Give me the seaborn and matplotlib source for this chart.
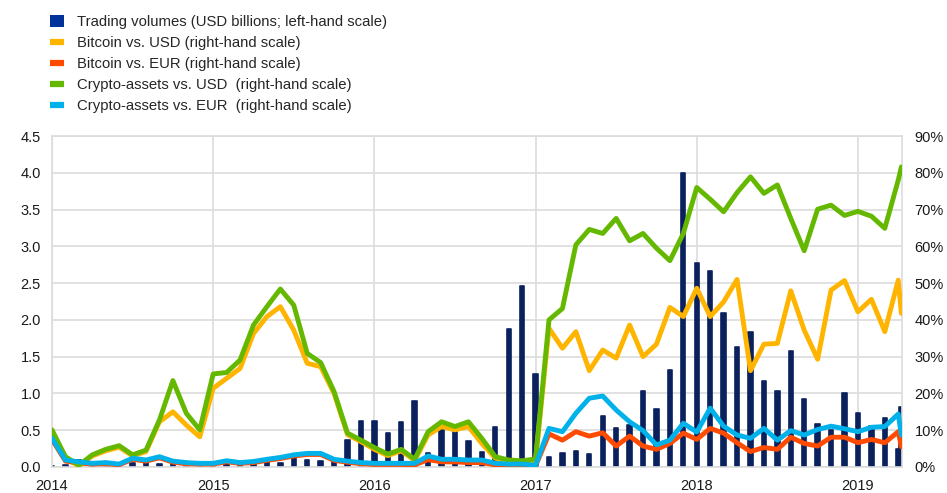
import numpy as np
import pandas as pd
import matplotlib.pyplot as plt
import seaborn as sns
from matplotlib.patches import Patch
from matplotlib.lines import Line2D
from matplotlib.ticker import FuncFormatter, MultipleLocator

# monthly observations Jan 2014 - Apr 2019, plus a last partial reading
dates = list(pd.date_range("2014-01-01", "2019-04-01", freq="MS")) + [pd.Timestamp("2019-04-08")]

# trading volumes, USD billions (left-hand scale)
volume = [0.02, 0.03, 0.10, 0.06, 0.03, 0.03, 0.06, 0.06, 0.04, 0.04, 0.03, 0.03,
          0.03, 0.04, 0.04, 0.05, 0.08, 0.05, 0.12, 0.10, 0.08, 0.08, 0.37, 0.63,
          0.63, 0.46, 0.61, 0.90, 0.19, 0.50, 0.50, 0.35, 0.21, 0.55, 1.88, 2.46,
          1.26, 0.14, 0.19, 0.22, 0.18, 0.69, 0.53, 0.57, 1.03, 0.79, 1.32, 4.00,
          2.77, 2.66, 2.10, 1.63, 1.84, 1.17, 1.03, 1.58, 0.92, 0.59, 0.50, 1.00,
          0.74, 0.56, 0.66, 0.24, 0.81]

# shares in percent (right-hand scale)
btc_usd = [9.7, 2.4, 0.3, 3.0, 4.4, 5.4, 3.0, 4.2, 12.3, 15.0, 11.4, 8.2,
           21.4, 24.1, 26.8, 36.3, 40.9, 43.6, 37.2, 28.2, 27.3, 20.0, 8.8, 6.9,
           4.8, 3.1, 4.4, 1.8, 8.7, 11.0, 10.1, 11.0, 6.4, 2.4, 1.6, 1.4,
           1.8, 37.7, 32.3, 36.8, 26.2, 31.8, 29.6, 38.6, 30.0, 33.4, 43.4, 40.9,
           48.6, 40.9, 44.9, 51.0, 26.2, 33.4, 33.6, 47.9, 37.2, 29.3, 48.1, 50.7,
           42.2, 45.6, 36.8, 50.8, 41.8]

btc_eur = [7.5, 1.6, 1.1, 0.8, 0.9, 0.6, 2.1, 1.6, 2.5, 1.3, 0.9, 0.8,
           0.8, 1.4, 1.0, 1.2, 1.8, 2.3, 3.0, 3.4, 3.4, 1.8, 1.3, 0.9,
           0.7, 0.7, 0.7, 0.6, 2.0, 1.4, 1.4, 1.2, 1.2, 0.6, 0.5, 0.5,
           0.3, 9.0, 7.3, 9.6, 8.4, 9.3, 5.7, 8.4, 5.7, 4.8, 6.4, 9.2,
           7.5, 10.5, 9.2, 6.6, 4.2, 5.3, 4.8, 8.1, 6.4, 5.7, 8.1, 8.1,
           6.6, 7.5, 6.6, 9.6, 5.5]

crypto_usd = [10.1, 2.8, 0.5, 3.3, 4.8, 5.8, 3.3, 4.6, 12.8, 23.5, 14.6, 10.1,
              25.3, 25.7, 29.1, 38.6, 43.6, 48.4, 44.0, 30.9, 28.4, 20.5, 9.2, 7.3,
              5.3, 3.5, 4.8, 2.1, 9.6, 12.3, 11.0, 12.3, 7.8, 2.8, 1.9, 1.7,
              2.2, 40.0, 43.1, 60.4, 64.6, 63.5, 67.6, 61.5, 63.5, 59.5, 56.1, 63.5,
              76.0, 72.8, 69.4, 74.6, 78.9, 74.4, 76.7, 67.6, 58.8, 70.1, 71.2, 68.4,
              69.5, 68.2, 64.9, 78.0, 81.6]

crypto_eur = [7.8, 1.9, 1.4, 1.0, 1.2, 0.8, 2.4, 1.9, 2.8, 1.6, 1.2, 1.0,
              1.0, 1.7, 1.2, 1.5, 2.1, 2.6, 3.3, 3.7, 3.7, 2.1, 1.6, 1.2,
              1.0, 1.0, 1.0, 1.0, 3.0, 2.1, 2.1, 1.9, 1.9, 1.0, 0.8, 0.8,
              0.5, 10.5, 9.6, 14.6, 18.7, 19.3, 15.5, 12.3, 9.9, 6.0, 7.3, 11.9,
              9.5, 16.0, 11.1, 8.7, 7.8, 10.5, 7.3, 9.9, 8.7, 10.2, 11.1, 10.4,
              9.6, 10.8, 11.0, 14.4, 8.7]

year_ticks = [2014, 2015, 2016, 2017, 2018, 2019]

legend_labels = ["Trading volumes (USD billions; left-hand scale)",
                 "Bitcoin vs. USD (right-hand scale)",
                 "Bitcoin vs. EUR (right-hand scale)",
                 "Crypto-assets vs. USD  (right-hand scale)",
                 "Crypto-assets vs. EUR  (right-hand scale)"]

navy = "#0b215e"
colors = {"Bitcoin vs. USD": "#ffb400",
          "Bitcoin vs. EUR": "#ff4b00",
          "Crypto-assets vs. USD": "#65b800",
          "Crypto-assets vs. EUR": "#00b1ea"}

sns.set_style("white")
plt.rcParams["font.family"] = ["Liberation Sans", "DejaVu Sans"]

# decimal-year position of each observation
x = np.array([d.year + (d.month - 1) / 12 + (d.day - 1) / 360 for d in dates])

vol_df = pd.DataFrame({"x": x, "volume": volume})
lines_df = pd.concat([
    pd.DataFrame({"x": x, "share": btc_usd, "series": "Bitcoin vs. USD"}),
    pd.DataFrame({"x": x, "share": btc_eur, "series": "Bitcoin vs. EUR"}),
    pd.DataFrame({"x": x, "share": crypto_usd, "series": "Crypto-assets vs. USD"}),
    pd.DataFrame({"x": x, "share": crypto_eur, "series": "Crypto-assets vs. EUR"}),
], ignore_index=True)

fig = plt.figure(figsize=(9.47, 4.93), dpi=100)
ax = fig.add_axes([52 / 947, 26 / 493, 850 / 947, 331 / 493])

min_step = np.min(np.diff(np.unique(x)))
bar_w = 0.027 / min_step
sns.barplot(data=vol_df, x="x", y="volume", native_scale=True, color=navy,
            saturation=1, width=bar_w, errorbar=None, ax=ax)
for p in ax.patches:
    p.set_edgecolor(navy)
    p.set_linewidth(1.2)
    p.set_joinstyle("round")

ax2 = ax.twinx()
sns.lineplot(data=lines_df, x="x", y="share", hue="series",
             hue_order=["Bitcoin vs. USD", "Bitcoin vs. EUR",
                        "Crypto-assets vs. USD", "Crypto-assets vs. EUR"],
             palette=colors, lw=3.5, estimator=None, legend=False, ax=ax2)

x_end = 2019 + 3.28 / 12
for a in (ax, ax2):
    a.set_xlim(2014, x_end)
    a.set_xlabel("")
    a.set_ylabel("")
ax.set_ylim(0, 4.5)
ax2.set_ylim(0, 90)

ax.set_xticks(year_ticks)
ax.set_xticklabels([str(y) for y in year_ticks])
ax.yaxis.set_major_locator(MultipleLocator(0.5))
ax.yaxis.set_major_formatter(FuncFormatter(lambda v, _: f"{v:.1f}"))
ax2.yaxis.set_major_locator(MultipleLocator(10))
ax2.yaxis.set_major_formatter(FuncFormatter(lambda v, _: f"{v:.0f}%"))

ax.grid(True, color="#dcdcdc", lw=1.2)
ax.set_axisbelow(True)
for s in ax.spines.values():
    s.set_color("#dcdcdc")
    s.set_linewidth(1.2)
for s in ax2.spines.values():
    s.set_visible(False)

ax.tick_params(axis="both", length=0, labelsize=10.5, colors="#1a1a1a")
ax.tick_params(axis="y", pad=8)
ax.tick_params(axis="x", pad=9)
ax2.tick_params(axis="y", length=0, labelsize=10.5, colors="#1a1a1a", pad=9)

handles = [Patch(facecolor="#003299", edgecolor="none")]
handles += [Line2D([], [], color=colors[k], lw=4.5, solid_capstyle="butt")
            for k in ["Bitcoin vs. USD", "Bitcoin vs. EUR",
                      "Crypto-assets vs. USD", "Crypto-assets vs. EUR"]]
fig.legend(handles, legend_labels, loc="upper left",
           bbox_to_anchor=(44 / 947, 1 - 9 / 493), frameon=False,
           fontsize=10.7, handlelength=0.95, handleheight=0.9,
           handletextpad=0.9, labelspacing=0.45, borderaxespad=0)

fig.savefig("out.png", dpi=100)
